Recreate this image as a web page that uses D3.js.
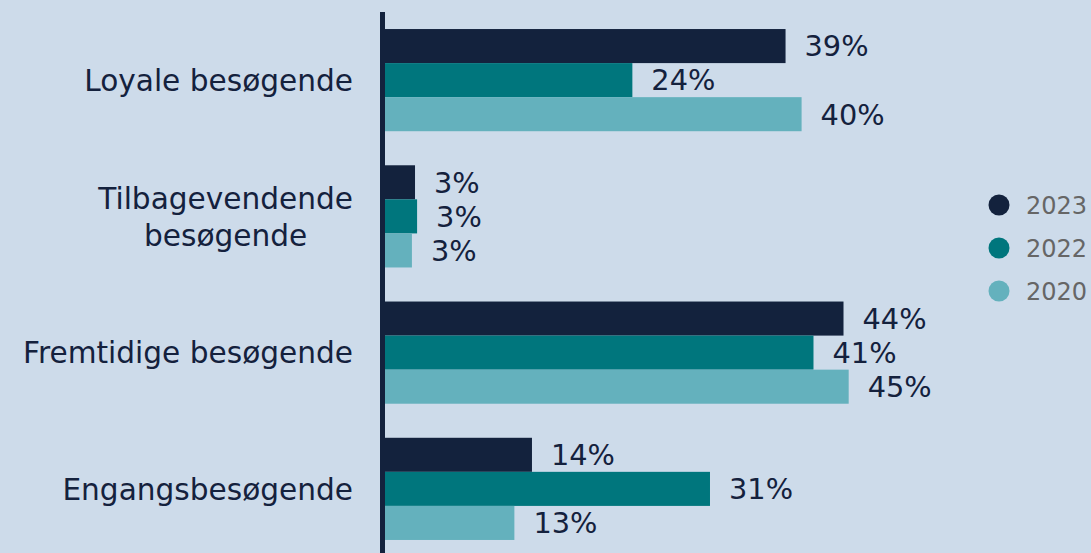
<!DOCTYPE html>
<html>
<head>
<meta charset="utf-8">
<script src="https://cdn.jsdelivr.net/npm/d3@7"></script>
<style>
  html, body { margin: 0; padding: 0; background: #cddbea; }
  svg { display: block; font-family: Verdana, "DejaVu Sans", sans-serif; }
</style>
</head>
<body>
<div id="chart"></div>
<script>
// categories (top to bottom), label lines
const categories = ['Loyale besøgende', 'Tilbagevendende besøgende', 'Fremtidige besøgende', 'Engangsbesøgende'];
const categoryLines = [['Loyale besøgende'], ['Tilbagevendende', 'besøgende'], ['Fremtidige besøgende'], ['Engangsbesøgende']];

// series (in percent)
const seriesNames = ['2023', '2022', '2020'];
const values2023 = [38.7, 2.9, 44.3, 14.2];
const values2022 = [23.9, 3.1, 41.4, 31.4];
const values2020 = [40.25, 2.6, 44.8, 12.5];

const colors = { '2023': '#13223d', '2022': '#00767d', '2020': '#64b1bd' };

const W = 1091, H = 553;
const margin = { LEFT: 385, TOP: 12 };

const svg = d3.select('#chart').append('svg')
  .attr('width', W)
  .attr('height', H);

svg.append('rect')
  .attr('width', W).attr('height', H)
  .attr('fill', '#cddbea');

// scales
const x = d3.scaleLinear().domain([0, 50]).range([margin.LEFT, margin.LEFT + 517.5]);
const y = d3.scaleBand().domain(categories).range([margin.TOP, 557])
  .paddingInner(0.25).paddingOuter(0.125);
const ySub = d3.scaleBand().domain(seriesNames).range([0, y.bandwidth()]);

const data = categories.map((c, i) => ({
  cat: c,
  vals: [
    { s: '2023', v: values2023[i] },
    { s: '2022', v: values2022[i] },
    { s: '2020', v: values2020[i] }
  ]
}));

const groups = svg.append('g').selectAll('g')
  .data(data)
  .join('g')
  .attr('transform', d => `translate(0, ${y(d.cat)})`);

groups.selectAll('rect')
  .data(d => d.vals)
  .join('rect')
  .attr('x', x(0))
  .attr('y', d => ySub(d.s))
  .attr('width', d => x(d.v) - x(0))
  .attr('height', ySub.bandwidth())
  .attr('fill', d => colors[d.s]);

// value labels
groups.selectAll('text.val')
  .data(d => d.vals)
  .join('text')
  .attr('class', 'val')
  .attr('x', d => x(d.v) + 19)
  .attr('y', d => ySub(d.s) + ySub.bandwidth() / 2)
  .attr('dy', '0.36em')
  .attr('font-size', '28.8px')
  .attr('fill', '#14213d')
  .text(d => Math.round(d.v) + '%');

// vertical axis line
svg.append('line')
  .attr('x1', margin.LEFT - 2.5).attr('x2', margin.LEFT - 2.5)
  .attr('y1', y.range()[0]).attr('y2', y.range()[1])
  .attr('stroke', '#13223d')
  .attr('stroke-width', 5);

// category labels (right aligned block, lines centered)
const LABEL_RIGHT = 353;
const LINE_H = 37;
data.forEach((d, i) => {
  const lines = categoryLines[i];
  const cy = y(d.cat) + y.bandwidth() / 2;
  const t = svg.append('text')
    .attr('font-size', '29.6px')
    .attr('fill', '#14213d')
    .attr('text-anchor', 'middle');
  lines.forEach((ln, j) => {
    t.append('tspan')
      .attr('y', cy + (j - (lines.length - 1) / 2) * LINE_H)
      .attr('dy', '0.36em')
      .text(ln);
  });
  let maxW = 0;
  t.selectAll('tspan').each(function() { maxW = Math.max(maxW, this.getComputedTextLength()); });
  t.selectAll('tspan').attr('x', LABEL_RIGHT - maxW / 2);
});

// legend
const legend = svg.append('g').selectAll('g')
  .data(seriesNames)
  .join('g')
  .attr('transform', (d, i) => `translate(999, ${205 + i * 43})`);

legend.append('circle')
  .attr('r', 10.5)
  .attr('fill', d => colors[d]);

legend.append('text')
  .attr('x', 27)
  .attr('dy', '0.36em')
  .attr('font-size', '24px')
  .attr('fill', '#666666')
  .text(d => d);
</script>
</body>
</html>
